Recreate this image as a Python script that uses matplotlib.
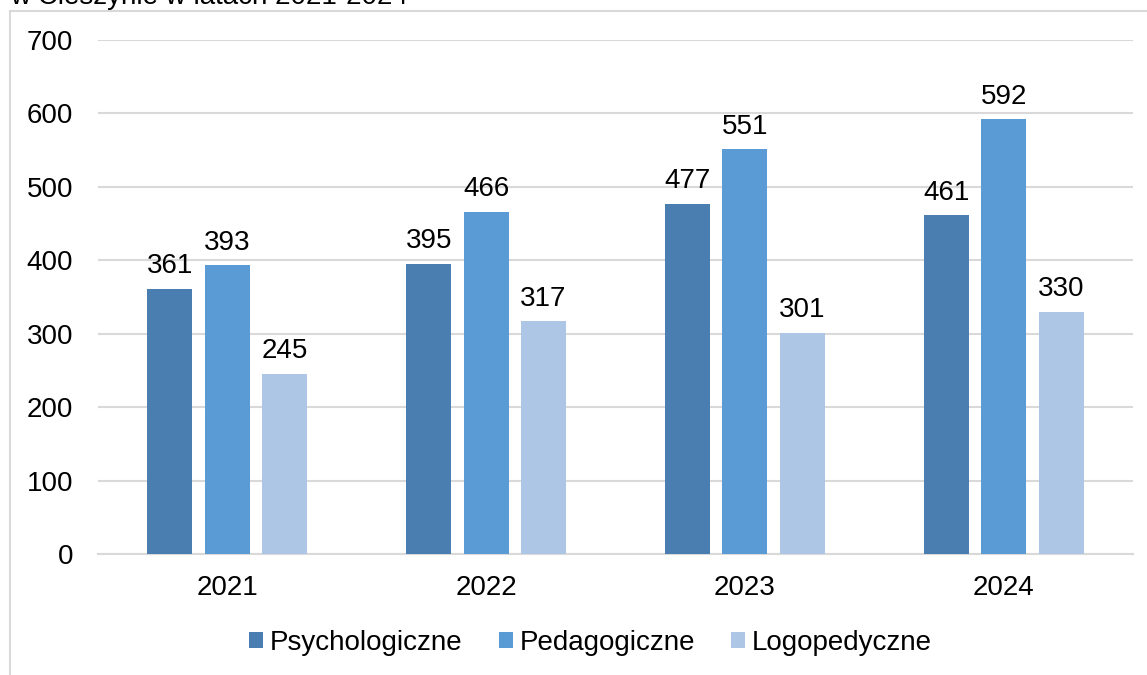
import matplotlib
matplotlib.use('Agg')
import matplotlib.pyplot as plt
import numpy as np
from matplotlib.lines import Line2D

plt.rcParams['font.family'] = ['Liberation Sans', 'DejaVu Sans']
plt.rcParams['font.size'] = 20

years = ['2021', '2022', '2023', '2024']
psychologiczne = [361, 395, 477, 461]
pedagogiczne = [393, 466, 551, 592]
logopedyczne = [245, 317, 301, 330]
series_names = ['Psychologiczne', 'Pedagogiczne', 'Logopedyczne']
colors = ['#4a7eb0', '#5b9bd5', '#adc6e5']

W, H = 1147, 675
fig = plt.figure(figsize=(W / 100, H / 100), dpi=100)
ax = fig.add_axes([98 / W, (H - 554) / H, 1035 / W, 514 / H])

x = np.arange(len(years))
step = 0.222
width = 0.174
for i, (vals, name, c) in enumerate(zip([psychologiczne, pedagogiczne, logopedyczne], series_names, colors)):
    bars = ax.bar(x + (i - 1) * step, vals, width, color=c, label=name, zorder=3)
    ax.bar_label(bars, padding=7, fontsize=20)

ax.set_xlim(-0.5, len(years) - 0.5)
ax.set_ylim(0, 700)
ax.set_yticks(range(0, 701, 100))
ax.set_xticks(x)
ax.set_xticklabels(years)
ax.yaxis.grid(True, color='#d9d9d9', linewidth=1.5, zorder=0)
ax.tick_params(axis='both', length=0)
ax.tick_params(axis='y', pad=18)
ax.tick_params(axis='x', pad=15)
for s in ['top', 'right', 'left']:
    ax.spines[s].set_visible(False)
ax.spines['bottom'].set_color('#d9d9d9')
ax.spines['bottom'].set_linewidth(1.5)

fig.legend(loc='center', bbox_to_anchor=(0.515, (H - 643) / H), ncol=3, frameon=False,
           handlelength=0.5, handleheight=0.5, handletextpad=0.25, columnspacing=1.3, fontsize=20)

# chart area border (partially visible)
fig.add_artist(Line2D([10 / W, 10 / W], [0, (H - 11) / H], color='#d9d9d9', linewidth=1.5))
fig.add_artist(Line2D([10 / W, 1], [(H - 11) / H, (H - 11) / H], color='#d9d9d9', linewidth=1.5))

# title cut off at the top
fig.text(10 / W, (H - 4) / H, 'w Cieszynie w latach 2021-2024', fontsize=20, va='baseline', ha='left')

fig.savefig('out.png', dpi=100)
